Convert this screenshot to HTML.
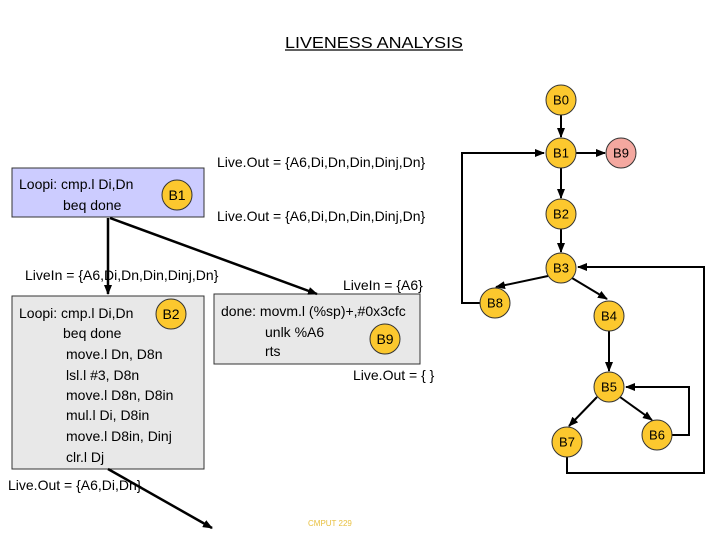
<!DOCTYPE html>
<html><head><meta charset="utf-8"><style>
body{margin:0;width:720px;height:540px;background:#fff;overflow:hidden}
svg{display:block}
text{font-family:"Liberation Sans",sans-serif;font-size:14px;fill:#000}
.n{font-size:13px;text-anchor:middle;dominant-baseline:central}
</style></head><body>
<svg width="720" height="540" viewBox="0 0 720 540">
<defs><marker id="a" markerWidth="10" markerHeight="8" refX="9" refY="4" orient="auto" markerUnits="userSpaceOnUse"><path d="M0,0 L10,4 L0,8 z" fill="#000"/></marker></defs>
<text x="285" y="48" style="font-size:16px" textLength="178" lengthAdjust="spacingAndGlyphs">LIVENESS ANALYSIS</text>
<line x1="285" y1="50" x2="463" y2="50" stroke="#000" stroke-width="1.2"/>
<rect x="12" y="168" width="192" height="49" fill="#ccccff" stroke="#333"/>
<text x="19" y="189">Loopi: cmp.l Di,Dn</text>
<text x="63" y="210">beq done</text>
<circle cx="177" cy="195" r="15" fill="#fcc82e" stroke="#333"/><text class="n" x="177" y="195" style="font-size:14px">B1</text>
<text x="217" y="167">Live.Out = {A6,Di,Dn,Din,Dinj,Dn}</text>
<text x="217" y="221">Live.Out = {A6,Di,Dn,Din,Dinj,Dn}</text>
<text x="25" y="280">LiveIn = {A6,Di,Dn,Din,Dinj,Dn}</text>
<text x="343" y="290">LiveIn = {A6}</text>
<rect x="12" y="296" width="192" height="173" fill="#e8e8e8" stroke="#333"/>
<text x="19" y="318">Loopi: cmp.l Di,Dn</text>
<text x="63" y="338">beq done</text>
<text x="66" y="359">move.l Dn, D8n</text>
<text x="66" y="380">lsl.l #3, D8n</text>
<text x="66" y="400">move.l D8n, D8in</text>
<text x="66" y="420">mul.l  Di, D8in</text>
<text x="66" y="441">move.l D8in, Dinj</text>
<text x="66" y="462">clr.l Dj</text>
<circle cx="171" cy="314" r="15" fill="#fcc82e" stroke="#333"/><text class="n" x="171" y="314" style="font-size:14px">B2</text>
<rect x="214" y="294" width="206" height="70" fill="#e8e8e8" stroke="#333"/>
<text x="221" y="316">done:  movm.l (%sp)+,#0x3cfc</text>
<text x="265" y="337">unlk %A6</text>
<text x="265" y="356">rts</text>
<circle cx="385" cy="339" r="15" fill="#fcc82e" stroke="#333"/><text class="n" x="385" y="339" style="font-size:14px">B9</text>
<text x="353" y="380">Live.Out = { }</text>
<text x="8" y="490">Live.Out = {A6,Di,Dn}</text>
<text x="308" y="526" style="font-size:8px;fill:#e8c040">CMPUT 229</text>
<g stroke="#000" stroke-width="2.5" fill="none">
<line x1="108" y1="218" x2="108" y2="294" marker-end="url(#a)"/>
<line x1="110" y1="218" x2="317" y2="294" marker-end="url(#a)"/>
<line x1="108" y1="469" x2="212" y2="528" marker-end="url(#a)"/>
</g>
<g stroke="#000" stroke-width="2" fill="none">
<line x1="561" y1="115" x2="561" y2="137" marker-end="url(#a)"/>
<line x1="576" y1="153" x2="605" y2="153" marker-end="url(#a)"/>
<line x1="561" y1="168" x2="561" y2="198" marker-end="url(#a)"/>
<line x1="561" y1="229" x2="561" y2="252" marker-end="url(#a)"/>
<line x1="548" y1="276" x2="496" y2="287" marker-end="url(#a)"/>
<line x1="572" y1="278" x2="607" y2="299" marker-end="url(#a)"/>
<line x1="609" y1="331" x2="609" y2="371" marker-end="url(#a)"/>
<line x1="597" y1="397" x2="569" y2="426" marker-end="url(#a)"/>
<line x1="620" y1="397" x2="652" y2="420" marker-end="url(#a)"/>
<polyline points="480,303 462,303 462,153 544,153" marker-end="url(#a)"/>
<polyline points="567,457 567,473 704,473 704,267 578,267" marker-end="url(#a)"/>
<polyline points="672,435 689,435 689,387 626,387" marker-end="url(#a)"/>
</g>
<g stroke="#333" stroke-width="1">
<circle cx="561" cy="100" r="15" fill="#fcc82e"/>
<circle cx="561" cy="153" r="15" fill="#fcc82e"/>
<circle cx="621" cy="153" r="15" fill="#f4a8a0"/>
<circle cx="561" cy="214" r="15" fill="#fcc82e"/>
<circle cx="561" cy="268" r="15" fill="#fcc82e"/>
<circle cx="495" cy="303" r="15" fill="#fcc82e"/>
<circle cx="609" cy="316" r="15" fill="#fcc82e"/>
<circle cx="609" cy="387" r="15" fill="#fcc82e"/>
<circle cx="657" cy="435" r="15" fill="#fcc82e"/>
<circle cx="567" cy="442" r="15" fill="#fcc82e"/>
</g>
<text class="n" x="561" y="100">B0</text>
<text class="n" x="561" y="153">B1</text>
<text class="n" x="621" y="153">B9</text>
<text class="n" x="561" y="214">B2</text>
<text class="n" x="561" y="268">B3</text>
<text class="n" x="495" y="303">B8</text>
<text class="n" x="609" y="316">B4</text>
<text class="n" x="609" y="387">B5</text>
<text class="n" x="657" y="435">B6</text>
<text class="n" x="567" y="442">B7</text>
</svg>
</body></html>
